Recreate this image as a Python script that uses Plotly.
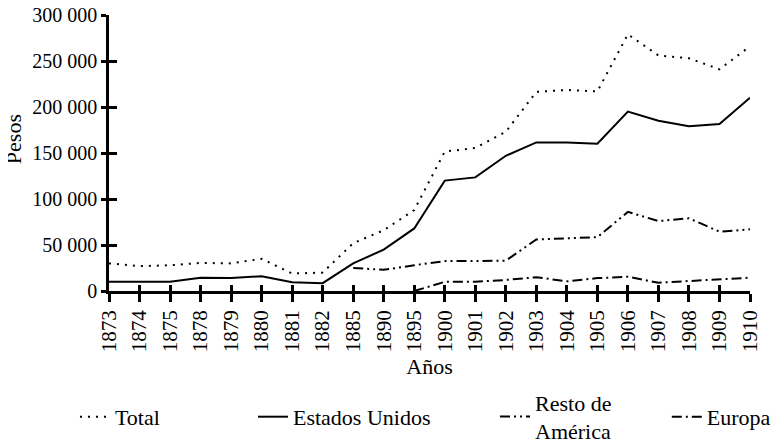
import plotly.graph_objects as go

years = ["1873", "1874", "1875", "1878", "1879", "1880", "1881", "1882", "1885", "1890", "1895",
         "1900", "1901", "1902", "1903", "1904", "1905", "1906", "1907", "1908", "1909", "1910"]
total = [30000, 27000, 28000, 30500, 30000, 35000, 19000, 20000, 52000, 66000, 88000,
         151500, 155500, 173000, 216500, 218500, 217000, 279000, 256000, 253000, 241000, 266000]
estados_unidos = [10000, 10000, 10000, 14500, 14000, 16000, 9500, 8500, 30000, 45000, 68000,
                  120000, 123500, 147000, 161500, 161500, 160000, 195000, 185000, 179000, 181500, 210000]
resto_america = [None, None, None, None, None, None, None, None, 25000, 23000, 28000,
                 32500, 32500, 33000, 56000, 57500, 58500, 86000, 76000, 79000, 64500, 67000]
europa = [None, None, None, None, None, None, None, None, None, None, 0,
          10000, 10000, 12000, 15000, 10500, 14000, 15500, 9000, 11000, 12500, 14500]
y_ticks = [0, 50000, 100000, 150000, 200000, 250000, 300000]

FONT = "Liberation Serif"
series = [
    ("Total", total, "2px,6px", "legend", 0.0863),
    ("Estados Unidos", estados_unidos, "solid", "legend2", 0.3157),
    ("Resto de<br>América", resto_america, "10px,4px,2px,4px,2px,4px", "legend3", 0.6276),
    ("Europa", europa, "10px,4px,2px,4px", "legend4", 0.849),
]

fig = go.Figure()
for name, vals, dash, leg, _ in series:
    fig.add_trace(go.Scatter(x=years, y=vals, name=name, mode="lines", legend=leg,
                             line=dict(color="black", width=2, dash=dash),
                             hoverinfo="skip"))

# invisible copy on overlay axes, used only to draw the inward halves of the ticks
fig.add_trace(go.Scatter(x=years, y=total, xaxis="x2", yaxis="y2", mode="lines",
                         line=dict(width=0), showlegend=False, hoverinfo="skip"))

axis_common = dict(showgrid=False, zeroline=False, tickcolor="black", tickwidth=2.5,
                   automargin=False)

legends = {}
for _, _, _, leg, lx in series:
    legends[leg] = dict(orientation="h", xref="container", yref="container",
                        x=lx, xanchor="left", y=0.06, yanchor="middle",
                        font=dict(family=FONT, size=22), bgcolor="rgba(0,0,0,0)",
                        borderwidth=0, tracegroupgap=0)

# the page body adds an 8 px offset, so the figure is 8 px smaller than the window
fig.update_layout(
    width=776, height=435,
    margin=dict(l=101, r=34, t=7, b=152),
    paper_bgcolor="white", plot_bgcolor="white",
    font=dict(family=FONT, size=21, color="black"),
    separators=", ",
    showlegend=True,
    xaxis=dict(type="category", range=[0, 21], tickangle=-90, ticks="outside", ticklen=8,
               showline=True, linecolor="black", linewidth=2.5,
               title=dict(text="Años", font=dict(family=FONT, size=22), standoff=8),
               tickfont=dict(family=FONT, size=21), **axis_common),
    yaxis=dict(range=[0, 300000], tickvals=y_ticks, tickformat=",d", ticks="outside", ticklen=5,
               ticklabeloverflow="allow",
               showline=True, linecolor="black", linewidth=2.5,
               tickfont=dict(family=FONT, size=20), **axis_common),
    xaxis2=dict(type="category", range=[0, 21], overlaying="x", anchor="y2", side="bottom",
                ticks="inside", ticklen=6, showticklabels=False, showline=False, **axis_common),
    yaxis2=dict(range=[0, 300000], tickvals=y_ticks, overlaying="y", anchor="x2", side="left",
                ticks="inside", ticklen=8, showticklabels=False, showline=False, **axis_common),
    **legends,
)

# y-axis title placed as a rotated text at the reference position
fig.add_annotation(text="Pesos", textangle=-90, showarrow=False,
                   xref="paper", yref="paper", x=-0.1498, y=0.55,
                   xanchor="center", yanchor="middle",
                   font=dict(family=FONT, size=22, color="black"))

fig.write_html("out.html")
